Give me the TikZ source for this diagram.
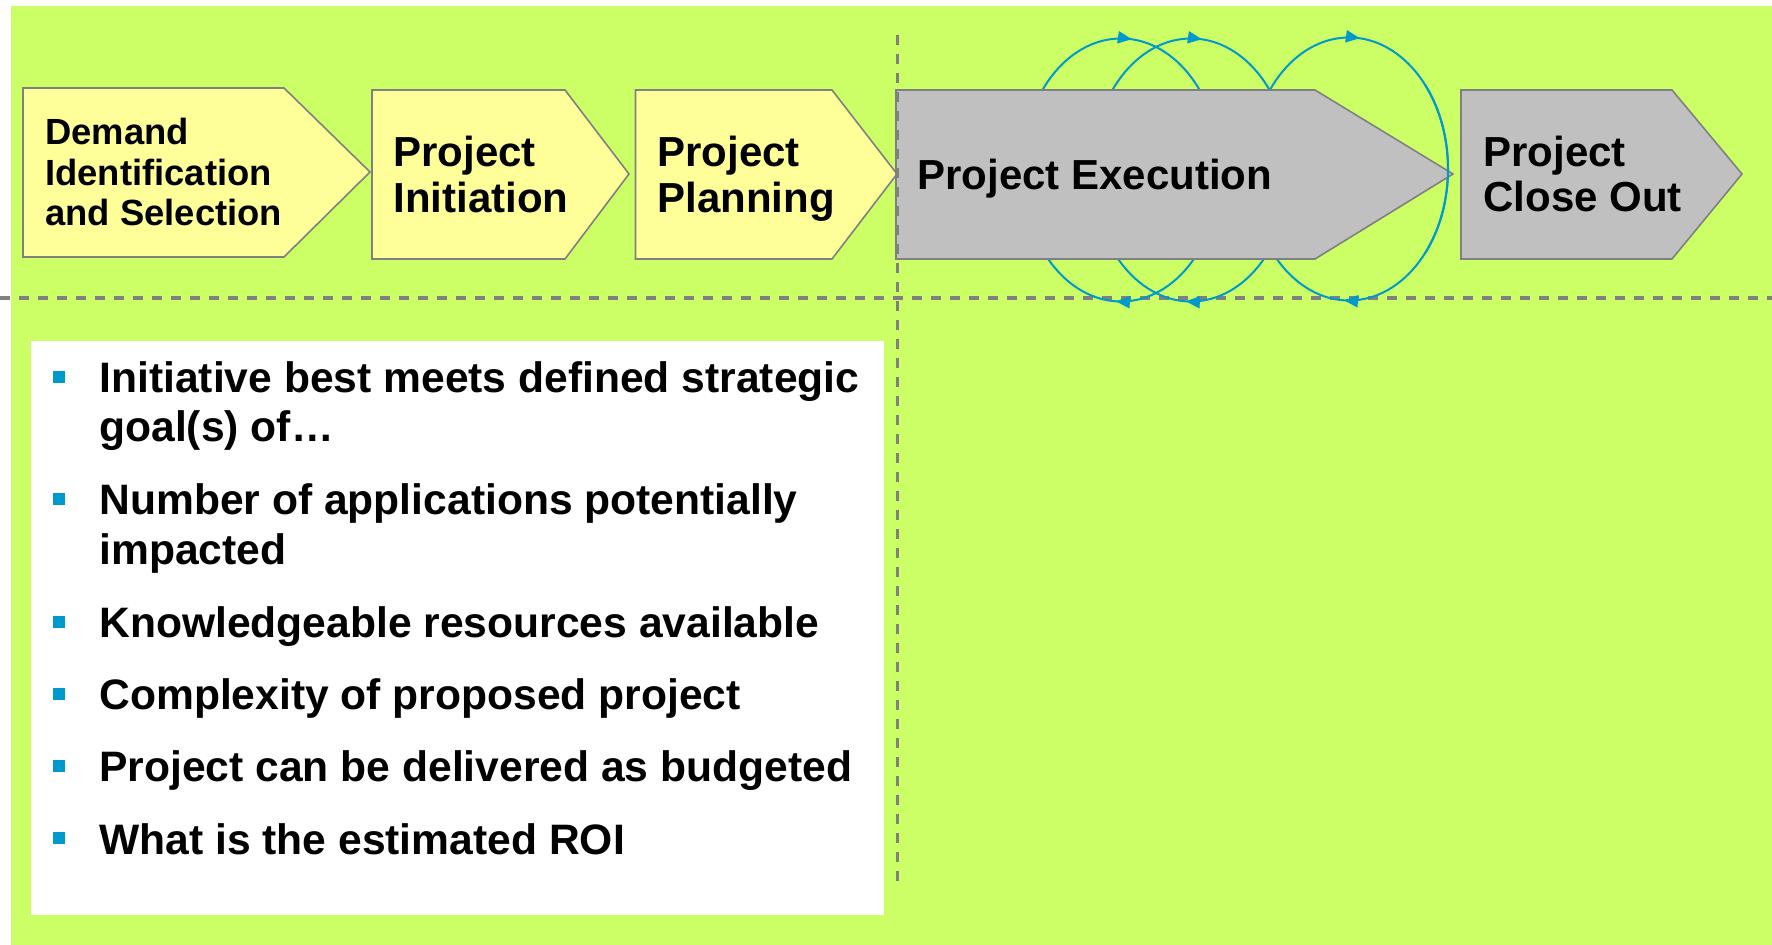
\documentclass[tikz,border=0pt]{standalone}
\usepackage{fontspec}
\setmainfont{Liberation Sans}
\usetikzlibrary{decorations.markings,arrows.meta}
\definecolor{bggreen}{HTML}{CCFF66}
\definecolor{stageyellow}{HTML}{FFFF99}
\definecolor{stagegray}{HTML}{C0C0C0}
\definecolor{edgegray}{HTML}{808080}
\definecolor{loopblue}{HTML}{0099CC}
\begin{document}
\begin{tikzpicture}[x=0.5pt,y=-0.5pt,
  stageY/.style={fill=stageyellow,draw=edgegray,line width=0.8pt,line join=miter},
  stageG/.style={fill=stagegray,draw=edgegray,line width=0.8pt,line join=miter},
  divider/.style={draw=edgegray,line width=1.6pt,dash pattern=on 5pt off 4.5pt},
  loopline/.style={draw=loopblue,line width=1pt},
  looppath/.style={loopline,postaction={decorate},
    decoration={markings,
      mark=at position 0.257 with {\arrow{Triangle[length=7pt,width=6pt]}},
      mark=at position 0.765 with {\arrow{Triangle[length=7pt,width=6pt]}}}},
  stagetext/.style={inner sep=0pt,anchor=base west,font=\bfseries\fontsize{21}{25}\selectfont},
  smalltext/.style={inner sep=0pt,anchor=base west,font=\bfseries\fontsize{18.2}{21}\selectfont},
  itemtext/.style={inner sep=0pt,anchor=base west,font=\bfseries\fontsize{21.3}{25}\selectfont},
  bulletsq/.style={fill=loopblue}]
\useasboundingbox (0,0) rectangle (1772,945);
\fill[white] (0,0) rectangle (1772,945);
\fill[bggreen] (11,6) rectangle (1772,945);
% white text panel
\fill[white] (30.5,341) rectangle (884,915);
% horizontal divider
\draw[divider] (0,298) -- (1772,298);
% iteration loops
\draw[looppath] (1121,170) ellipse [x radius=99, y radius=131.5];
\draw[looppath] (1191,170) ellipse [x radius=99, y radius=131.5];
\draw[looppath] (1349,169) ellipse [x radius=99, y radius=131.5];
% stages
\draw[stageY] (23,88) -- (284,88) -- (370,172) -- (284,257) -- (23,257) -- cycle;
\draw[stageY] (372,90) -- (565,90) -- (629,174) -- (565,259) -- (372,259) -- cycle;
\draw[stageY] (635.5,90) -- (832,90) -- (897,174) -- (832,259) -- (635.5,259) -- cycle;
\draw[stageG] (896,90) -- (1315,90) -- (1453,174) -- (1315,259) -- (896,259) -- cycle;
\draw[stageG] (1461,90) -- (1672,90) -- (1742,174) -- (1672,259) -- (1461,259) -- cycle;
% vertical divider
\draw[divider] (897.5,35) -- (897.5,884);
% visible right side of third loop
\draw[loopline] (1349,169) ++(-40:99 and 131.5) arc[start angle=-40,end angle=40,x radius=99,y radius=131.5];
% stage texts
\node[smalltext] (d1) at (45,145) {Demand};
\node[smalltext] (d2) at (45,186) {Identification};
\node[smalltext] (d3) at (45,226) {and Selection};
\node[stagetext] (i1) at (393,167) {Project};
\node[stagetext] (i2) at (393,213) {Initiation};
\node[stagetext] (p1) at (657,167) {Project};
\node[stagetext] (p2) at (657,213) {Planning};
\node[stagetext] (e1) at (917,190) {Project Execution};
\node[stagetext] (c1) at (1483,167) {Project};
\node[stagetext] (c2) at (1483,212) {Close Out};
% bullet list
\foreach \b in {393,515,638,710,782,854}
  \fill[bulletsq] (53,\b-22) rectangle (65,\b-10);
\node[itemtext] (t1) at (99,393) {Initiative best meets defined strategic};
\node[itemtext] (t2) at (99,441.5) {goal(s) of…};
\node[itemtext] (t3) at (99,515) {Number of applications potentially};
\node[itemtext] (t4) at (99,565) {impacted};
\node[itemtext] (t5) at (99,638) {Knowledgeable resources available};
\node[itemtext] (t6) at (99,710) {Complexity of proposed project};
\node[itemtext] (t7) at (99,782) {Project can be delivered as budgeted};
\node[itemtext] (t8) at (99,854) {What is the estimated ROI};
\end{tikzpicture}
\end{document}
